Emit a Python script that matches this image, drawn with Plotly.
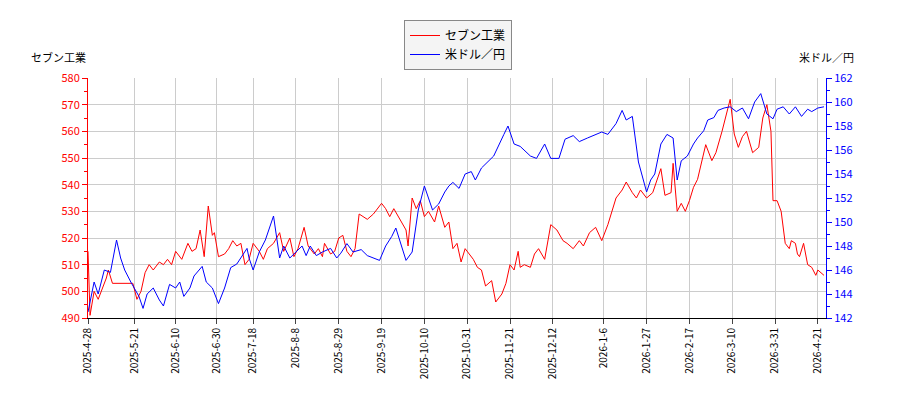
import plotly.graph_objects as go
import pandas as pd

red_dates = ["2025-04-28","2025-04-29","2025-05-01","2025-05-03","2025-05-07","2025-05-08","2025-05-10","2025-05-20","2025-05-22","2025-05-24","2025-05-26","2025-05-28","2025-05-30","2025-06-02","2025-06-04","2025-06-06","2025-06-08","2025-06-10","2025-06-13","2025-06-16","2025-06-18","2025-06-20","2025-06-22","2025-06-24","2025-06-26","2025-06-28","2025-06-29","2025-07-01","2025-07-04","2025-07-06","2025-07-08","2025-07-10","2025-07-12","2025-07-14","2025-07-16","2025-07-18","2025-07-21","2025-07-23","2025-07-25","2025-07-28","2025-07-31","2025-08-02","2025-08-05","2025-08-07","2025-08-09","2025-08-12","2025-08-14","2025-08-17","2025-08-19","2025-08-21","2025-08-22","2025-08-25","2025-08-27","2025-08-29","2025-08-31","2025-09-02","2025-09-04","2025-09-06","2025-09-08","2025-09-10","2025-09-12","2025-09-15","2025-09-19","2025-09-21","2025-09-23","2025-09-25","2025-10-01","2025-10-02","2025-10-04","2025-10-06","2025-10-08","2025-10-10","2025-10-12","2025-10-15","2025-10-17","2025-10-20","2025-10-22","2025-10-24","2025-10-26","2025-10-28","2025-10-30","2025-11-01","2025-11-03","2025-11-05","2025-11-07","2025-11-09","2025-11-12","2025-11-14","2025-11-17","2025-11-19","2025-11-21","2025-11-23","2025-11-25","2025-11-26","2025-11-28","2025-12-01","2025-12-03","2025-12-05","2025-12-08","2025-12-11","2025-12-14","2025-12-17","2025-12-19","2025-12-22","2025-12-25","2025-12-27","2025-12-30","2026-01-02","2026-01-05","2026-01-08","2026-01-10","2026-01-12","2026-01-15","2026-01-17","2026-01-20","2026-01-22","2026-01-24","2026-01-27","2026-01-30","2026-02-03","2026-02-05","2026-02-08","2026-02-09","2026-02-11","2026-02-13","2026-02-15","2026-02-17","2026-02-19","2026-02-21","2026-02-23","2026-02-25","2026-02-28","2026-03-02","2026-03-05","2026-03-09","2026-03-11","2026-03-13","2026-03-15","2026-03-17","2026-03-20","2026-03-23","2026-03-25","2026-03-27","2026-03-29","2026-03-30","2026-04-01","2026-04-03","2026-04-05","2026-04-07","2026-04-08","2026-04-10","2026-04-11","2026-04-12","2026-04-14","2026-04-16","2026-04-18","2026-04-20","2026-04-21","2026-04-24"]
red_vals = [515,491,500,497,505,508,503,503,497,500,507,510,508,511,510,512,510,515,512,518,515,516,523,513,532,521,522,513,514,516,519,517,518,510,512,518,515,512,516,518,522,515,520,513,516,524,517,514,516,513,518,514,515,520,521,515,513,516,529,528,527,529,533,531,528,531,523,517,535,531,534,528,530,526,532,524,526,516,518,511,516,514,512,509,508,502,504,496,499,503,510,508,515,509,510,509,514,516,512,525,523,519,518,516,519,517,522,524,519,525,530,535,538,541,537,535,538,535,537,546,536,537,548,530,533,530,534,539,542,548,555,549,552,560,572,559,554,558,560,552,554,565,570,560,534,534,530,518,516,519,518,514,513,518,510,509,506,508,506,504]

blue_dates = ["2025-04-28","2025-05-01","2025-05-03","2025-05-06","2025-05-09","2025-05-12","2025-05-14","2025-05-16","2025-05-19","2025-05-23","2025-05-25","2025-05-27","2025-05-30","2025-06-02","2025-06-04","2025-06-07","2025-06-10","2025-06-12","2025-06-14","2025-06-17","2025-06-19","2025-06-23","2025-06-25","2025-06-28","2025-07-01","2025-07-04","2025-07-07","2025-07-10","2025-07-15","2025-07-16","2025-07-18","2025-07-21","2025-07-24","2025-07-28","2025-07-31","2025-08-02","2025-08-05","2025-08-08","2025-08-11","2025-08-13","2025-08-15","2025-08-18","2025-08-21","2025-08-25","2025-08-28","2025-08-30","2025-09-02","2025-09-05","2025-09-09","2025-09-12","2025-09-15","2025-09-18","2025-09-21","2025-09-24","2025-09-26","2025-09-29","2025-10-01","2025-10-04","2025-10-07","2025-10-10","2025-10-12","2025-10-14","2025-10-17","2025-10-20","2025-10-22","2025-10-24","2025-10-27","2025-10-30","2025-11-02","2025-11-04","2025-11-07","2025-11-10","2025-11-13","2025-11-18","2025-11-20","2025-11-23","2025-11-26","2025-12-01","2025-12-04","2025-12-08","2025-12-11","2025-12-15","2025-12-18","2025-12-22","2025-12-25","2025-12-29","2026-01-05","2026-01-08","2026-01-12","2026-01-15","2026-01-17","2026-01-20","2026-01-23","2026-01-27","2026-01-29","2026-01-31","2026-02-03","2026-02-06","2026-02-09","2026-02-11","2026-02-13","2026-02-16","2026-02-19","2026-02-21","2026-02-24","2026-02-26","2026-03-01","2026-03-03","2026-03-06","2026-03-09","2026-03-12","2026-03-15","2026-03-18","2026-03-21","2026-03-24","2026-03-27","2026-03-30","2026-04-01","2026-04-04","2026-04-07","2026-04-10","2026-04-13","2026-04-16","2026-04-18","2026-04-21","2026-04-24"]
blue_vals = [142.5,145,144,146,145.8,148.5,147,146,145,143.8,142.8,144,144.5,143.5,143,144.8,144.5,145,143.8,144.5,145.5,146.3,145,144.5,143.2,144.5,146.2,146.5,147.8,147,146,147.5,148.5,150.5,147,148,147,147.5,148,147.2,148,147.2,147.5,147.8,147.0,147.4,148.2,147.5,147.7,147.2,147.0,146.8,148,148.8,149.5,147.8,146.8,147.5,151,153,152,151,151.5,152.5,153,153.3,152.8,154,154.2,153.5,154.5,155,155.5,157.3,158,156.5,156.3,155.5,155.3,156.5,155.3,155.3,156.9,157.2,156.7,157.0,157.5,157.3,158.2,159.3,158.5,158.8,155,152.5,153.5,154,156.5,157.3,157,153.5,155.1,155.5,156.5,157,157.6,158.5,158.7,159.3,159.5,159.6,159.2,159.5,158.6,160.0,160.7,159,158.6,159.4,159.6,159.0,159.6,158.8,159.4,159.2,159.5,159.6]

tick_dates = ["2025-04-28","2025-05-21","2025-06-10","2025-06-30","2025-07-18","2025-08-08","2025-08-29","2025-09-19","2025-10-10","2025-10-31","2025-11-21","2025-12-12","2026-01-06","2026-01-27","2026-02-17","2026-03-10","2026-03-31","2026-04-21"]
tick_labels = [f"{d[:4]}-{int(d[5:7])}-{int(d[8:])}" for d in tick_dates]

fig = go.Figure()
fig.add_trace(go.Scatter(x=pd.to_datetime(red_dates), y=red_vals, name="セブン工業",
                         mode="lines", line=dict(color="red", width=1)))
fig.add_trace(go.Scatter(x=pd.to_datetime(blue_dates), y=blue_vals, name="米ドル／円",
                         mode="lines", line=dict(color="blue", width=1), yaxis="y2"))
font = "Noto Sans CJK JP"
fig.update_layout(
    width=900, height=400, margin=dict(l=80, r=82, t=70, b=90, autoexpand=False),
    plot_bgcolor="white", paper_bgcolor="white",
    font=dict(family=font, size=11, color="black"),
    showlegend=True,
    legend=dict(x=0.5, y=0.97, xref="container", yref="container", xanchor="center", yanchor="top",
                bordercolor="#888", borderwidth=1, bgcolor="#f4f4f4", font=dict(size=12)),
    xaxis=dict(range=[pd.Timestamp("2025-04-28"), pd.Timestamp("2026-04-25")],
               tickvals=pd.to_datetime(tick_dates), ticktext=tick_labels, tickangle=-90,
               showgrid=True, gridcolor="#cccccc", showline=True, linecolor="black",
               ticks="outside", tickfont=dict(size=10), automargin=False),
    yaxis=dict(range=[490, 580], dtick=10, showgrid=True, gridcolor="#cccccc",
               showline=True, linecolor="red", ticks="outside", tickcolor="red",
               tickfont=dict(color="red", size=11), automargin=False,
               minor=dict(dtick=5, ticks="outside", ticklen=3, tickcolor="red")),
    yaxis2=dict(range=[142, 162], dtick=2, overlaying="y", side="right", showgrid=False,
                showline=True, linecolor="blue", ticks="outside", tickcolor="blue",
                tickfont=dict(color="blue", size=11), automargin=False,
                minor=dict(dtick=1, ticks="outside", ticklen=3, tickcolor="blue")),
    annotations=[
        dict(text="セブン工業", xref="paper", yref="paper", x=-0.08, y=1.13,
             showarrow=False, xanchor="left", font=dict(size=11)),
        dict(text="米ドル／円", xref="paper", yref="paper", x=1.04, y=1.13,
             showarrow=False, xanchor="right", font=dict(size=11)),
    ],
)
fig.write_html("out.html")
